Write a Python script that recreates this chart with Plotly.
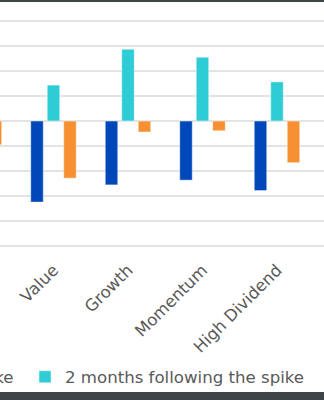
import plotly.graph_objects as go

# Factor returns around volatility spikes (one gridline = 1 unit)
categories = ["Market", "Value", "Growth", "Momentum", "High Dividend"]
during_spike = [None, -3.25, -2.56, -2.37, -2.79]
two_months_after = [None, 1.44, 2.88, 2.56, 1.57]
three_months_after = [-0.95, -2.29, -0.44, -0.39, -1.67]
series_names = ["During the spike", "2 months following the spike", "3 months following the spike"]
colors = ["#0047BA", "#2ECDD5", "#F79032"]

W, H = 324, 400
M_T, M_B = 20, 153
PLOT_H = H - M_T - M_B
FONT = "DejaVu Sans"
TEXT = "#595959"


def py(px):
    """Page pixel row -> paper y."""
    return (H - M_B - px) / PLOT_H


fig = go.Figure()
for name, vals, col, show in zip(series_names,
                                 [during_spike, two_months_after, three_months_after],
                                 colors, [False, True, False]):
    fig.add_trace(go.Bar(
        x=categories, y=vals, name=name, showlegend=show,
        marker=dict(color=col, line=dict(color="rgba(255,255,255,0.45)", width=1)),
    ))

fig.update_layout(
    width=W, height=H,
    margin=dict(l=0, r=0, t=M_T, b=M_B, autoexpand=False),
    paper_bgcolor="white", plot_bgcolor="white",
    barmode="group", bargap=0.336, bargroupgap=0.242,
    font=dict(family=FONT, color=TEXT, size=16),
    xaxis=dict(
        type="category", range=[0.282, 4.631],
        tickangle=-45, ticks="outside", ticklen=6, tickcolor="rgba(0,0,0,0)",
        tickfont=dict(size=16.5, color=TEXT), showgrid=False, showline=False,
    ),
    yaxis=dict(
        range=[-5.05, 4.05], dtick=1, showticklabels=False,
        gridcolor="#E2E4E4", gridwidth=1.5,
        zeroline=True, zerolinecolor="#E2E4E4", zerolinewidth=1.5,
    ),
    legend=dict(
        orientation="h", x=25 / W, xanchor="left", y=py(377), yanchor="middle",
        font=dict(size=16.6, color=TEXT), bgcolor="rgba(0,0,0,0)",
    ),
    annotations=[dict(
        text=series_names[0], xref="paper", yref="paper",
        x=16 / W, xanchor="right", y=py(377), yanchor="middle",
        showarrow=False, font=dict(size=16.6, color=TEXT, family=FONT),
    )],
    shapes=[
        dict(type="rect", xref="paper", yref="paper", x0=0, x1=1,
             y0=py(2), y1=py(0), fillcolor="#3D4547", line=dict(width=0), layer="above"),
        dict(type="rect", xref="paper", yref="paper", x0=0, x1=1,
             y0=py(400), y1=py(392), fillcolor="#3D4547", line=dict(width=0), layer="above"),
    ],
)

fig.write_html("out.html")
